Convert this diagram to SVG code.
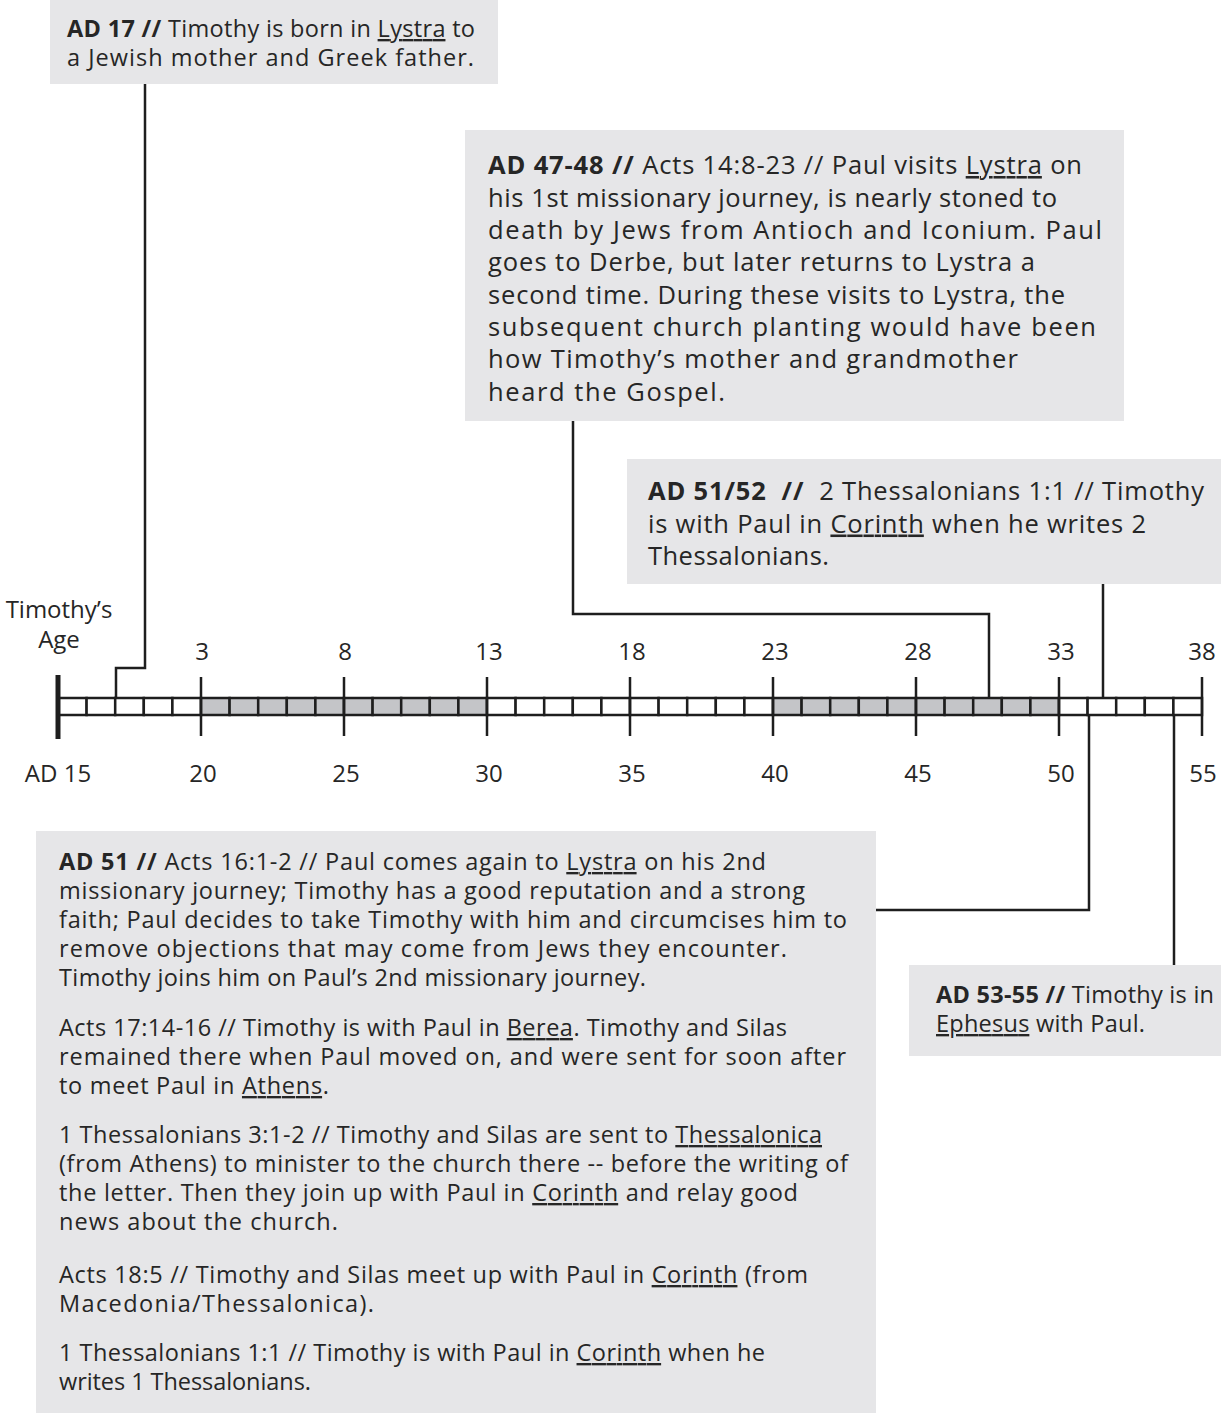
<svg xmlns="http://www.w3.org/2000/svg" width="1221" height="1414" viewBox="0 0 1221 1414">
<style>
.box{fill:#e6e6e8;}
.t{font-family:"Open Sans","Liberation Sans",sans-serif;fill:#262626;font-size:23.5px;}
.tl{font-family:"Open Sans","Liberation Sans",sans-serif;fill:#262626;font-size:25.5px;}
.lab{font-family:"Open Sans","Liberation Sans",sans-serif;fill:#262626;font-size:24px;text-anchor:middle;}
.b{font-weight:bold;}
.u{text-decoration:underline;}
.ln{fill:none;stroke:#1e1e1e;stroke-width:2.5;}
.cellw{fill:#ffffff;stroke:#1e1e1e;stroke-width:2.5;}
.cellg{fill:#c4c5c8;stroke:#1e1e1e;stroke-width:2.5;}
</style>

<g id="connectors">
<path class="ln" d="M145,84 V668 H116 V698"/>
<path class="ln" d="M573,421 V614 H989 V698"/>
<path class="ln" d="M1103,584 V698"/>
<path class="ln" d="M1089,715 V910 H876"/>
<path class="ln" d="M1174,715 V965"/>
</g>

<g id="timeline">
<g id="cells">
<rect class="cellw" x="58" y="698" width="28.6" height="17"/>
<rect class="cellw" x="86.6" y="698" width="28.6" height="17"/>
<rect class="cellw" x="115.2" y="698" width="28.6" height="17"/>
<rect class="cellw" x="143.8" y="698" width="28.6" height="17"/>
<rect class="cellw" x="172.4" y="698" width="28.6" height="17"/>
<rect class="cellg" x="201" y="698" width="28.6" height="17"/>
<rect class="cellg" x="229.6" y="698" width="28.6" height="17"/>
<rect class="cellg" x="258.2" y="698" width="28.6" height="17"/>
<rect class="cellg" x="286.8" y="698" width="28.6" height="17"/>
<rect class="cellg" x="315.4" y="698" width="28.6" height="17"/>
<rect class="cellg" x="344" y="698" width="28.6" height="17"/>
<rect class="cellg" x="372.6" y="698" width="28.6" height="17"/>
<rect class="cellg" x="401.2" y="698" width="28.6" height="17"/>
<rect class="cellg" x="429.8" y="698" width="28.6" height="17"/>
<rect class="cellg" x="458.4" y="698" width="28.6" height="17"/>
<rect class="cellw" x="487" y="698" width="28.6" height="17"/>
<rect class="cellw" x="515.6" y="698" width="28.6" height="17"/>
<rect class="cellw" x="544.2" y="698" width="28.6" height="17"/>
<rect class="cellw" x="572.8" y="698" width="28.6" height="17"/>
<rect class="cellw" x="601.4" y="698" width="28.6" height="17"/>
<rect class="cellw" x="630" y="698" width="28.6" height="17"/>
<rect class="cellw" x="658.6" y="698" width="28.6" height="17"/>
<rect class="cellw" x="687.2" y="698" width="28.6" height="17"/>
<rect class="cellw" x="715.8" y="698" width="28.6" height="17"/>
<rect class="cellw" x="744.4" y="698" width="28.6" height="17"/>
<rect class="cellg" x="773" y="698" width="28.6" height="17"/>
<rect class="cellg" x="801.6" y="698" width="28.6" height="17"/>
<rect class="cellg" x="830.2" y="698" width="28.6" height="17"/>
<rect class="cellg" x="858.8" y="698" width="28.6" height="17"/>
<rect class="cellg" x="887.4" y="698" width="28.6" height="17"/>
<rect class="cellg" x="916" y="698" width="28.6" height="17"/>
<rect class="cellg" x="944.6" y="698" width="28.6" height="17"/>
<rect class="cellg" x="973.2" y="698" width="28.6" height="17"/>
<rect class="cellg" x="1001.8" y="698" width="28.6" height="17"/>
<rect class="cellg" x="1030.4" y="698" width="28.6" height="17"/>
<rect class="cellw" x="1059" y="698" width="28.6" height="17"/>
<rect class="cellw" x="1087.6" y="698" width="28.6" height="17"/>
<rect class="cellw" x="1116.2" y="698" width="28.6" height="17"/>
<rect class="cellw" x="1144.8" y="698" width="28.6" height="17"/>
<rect class="cellw" x="1173.4" y="698" width="28.6" height="17"/>
</g>
<g id="ticks">
<path class="ln" style="stroke-width:5" d="M58,675 V739"/>
<path class="ln" d="M201,677 V736 M344,677 V736 M487,677 V736 M630,677 V736 M773,677 V736 M916,677 V736 M1059,677 V736 M1202,677 V736"/>
</g>
<g id="age-labels">
<text class="lab" x="59" y="618">Timothy’s</text>
<text class="lab" x="59" y="648">Age</text>
<text class="lab" x="202" y="660">3</text>
<text class="lab" x="345" y="660">8</text>
<text class="lab" x="489" y="660">13</text>
<text class="lab" x="632" y="660">18</text>
<text class="lab" x="775" y="660">23</text>
<text class="lab" x="918" y="660">28</text>
<text class="lab" x="1061" y="660">33</text>
<text class="lab" x="1202" y="660">38</text>
</g>
<g id="year-labels">
<text class="lab" x="58" y="782">AD 15</text>
<text class="lab" x="203" y="782">20</text>
<text class="lab" x="346" y="782">25</text>
<text class="lab" x="489" y="782">30</text>
<text class="lab" x="632" y="782">35</text>
<text class="lab" x="775" y="782">40</text>
<text class="lab" x="918" y="782">45</text>
<text class="lab" x="1061" y="782">50</text>
<text class="lab" x="1203" y="782">55</text>
</g>
</g>

<g id="node-ad17">
<rect class="box" x="50" y="0" width="448" height="84"/>
<text class="t" x="67" y="37" textLength="408"><tspan class="b">AD 17 //</tspan> Timothy is born in <tspan class="u">Lystra</tspan> to</text>
<text class="t" x="67" y="66" textLength="407">a Jewish mother and Greek father.</text>
</g>

<g id="node-ad47-48">
<rect class="box" x="465" y="130" width="659" height="291"/>
<text class="tl" x="488" y="174" textLength="594"><tspan class="b">AD 47-48 //</tspan> Acts 14:8-23 // Paul visits <tspan class="u">Lystra</tspan> on</text>
<text class="tl" x="488" y="206.5" textLength="569">his 1st missionary journey, is nearly stoned to</text>
<text class="tl" x="488" y="239" textLength="614">death by Jews from Antioch and Iconium. Paul</text>
<text class="tl" x="488" y="271" textLength="547">goes to Derbe, but later returns to Lystra a</text>
<text class="tl" x="488" y="303.5" textLength="577">second time. During these visits to Lystra, the</text>
<text class="tl" x="488" y="336" textLength="608">subsequent church planting would have been</text>
<text class="tl" x="488" y="368" textLength="530">how Timothy’s mother and grandmother</text>
<text class="tl" x="488" y="401" textLength="237">heard the Gospel.</text>
</g>

<g id="node-ad51-52">
<rect class="box" x="627" y="459" width="594" height="125"/>
<text class="tl" x="648" y="500" textLength="556" xml:space="preserve"><tspan class="b">AD 51/52  //</tspan>  2 Thessalonians 1:1 // Timothy</text>
<text class="tl" x="648" y="532.5" textLength="498">is with Paul in <tspan class="u">Corinth</tspan> when he writes 2</text>
<text class="tl" x="648" y="565" textLength="181">Thessalonians.</text>
</g>

<g id="node-ad51">
<rect class="box" x="36" y="831" width="840" height="582"/>
<text class="t" x="59" y="870" textLength="707"><tspan class="b">AD 51 //</tspan> Acts 16:1-2 // Paul comes again to <tspan class="u">Lystra</tspan> on his 2nd</text>
<text class="t" x="59" y="899" textLength="746">missionary journey; Timothy has a good reputation and a strong</text>
<text class="t" x="59" y="928" textLength="788">faith; Paul decides to take Timothy with him and circumcises him to</text>
<text class="t" x="59" y="957" textLength="728">remove objections that may come from Jews they encounter.</text>
<text class="t" x="59" y="986" textLength="587">Timothy joins him on Paul’s 2nd missionary journey.</text>
<text class="t" x="59" y="1036" textLength="728">Acts 17:14-16 // Timothy is with Paul in <tspan class="u">Berea</tspan>. Timothy and Silas</text>
<text class="t" x="59" y="1065" textLength="787">remained there when Paul moved on, and were sent for soon after</text>
<text class="t" x="59" y="1094" textLength="270">to meet Paul in <tspan class="u">Athens</tspan>.</text>
<text class="t" x="59" y="1143" textLength="763">1 Thessalonians 3:1-2 // Timothy and Silas are sent to <tspan class="u">Thessalonica</tspan></text>
<text class="t" x="59" y="1172" textLength="789">(from Athens) to minister to the church there -- before the writing of</text>
<text class="t" x="59" y="1201" textLength="739">the letter. Then they join up with Paul in <tspan class="u">Corinth</tspan> and relay good</text>
<text class="t" x="59" y="1230" textLength="279">news about the church.</text>
<text class="t" x="59" y="1283" textLength="749">Acts 18:5 // Timothy and Silas meet up with Paul in <tspan class="u">Corinth</tspan> (from</text>
<text class="t" x="59" y="1312" textLength="315">Macedonia/Thessalonica).</text>
<text class="t" x="59" y="1361" textLength="706">1 Thessalonians 1:1 // Timothy is with Paul in <tspan class="u">Corinth</tspan> when he</text>
<text class="t" x="59" y="1390" textLength="252">writes 1 Thessalonians.</text>
</g>

<g id="node-ad53-55">
<rect class="box" x="909" y="965" width="312" height="91"/>
<text class="t" x="936" y="1003" textLength="278"><tspan class="b">AD 53-55 //</tspan> Timothy is in</text>
<text class="t" x="936" y="1032" textLength="209"><tspan class="u">Ephesus</tspan> with Paul.</text>
</g>
</svg>
